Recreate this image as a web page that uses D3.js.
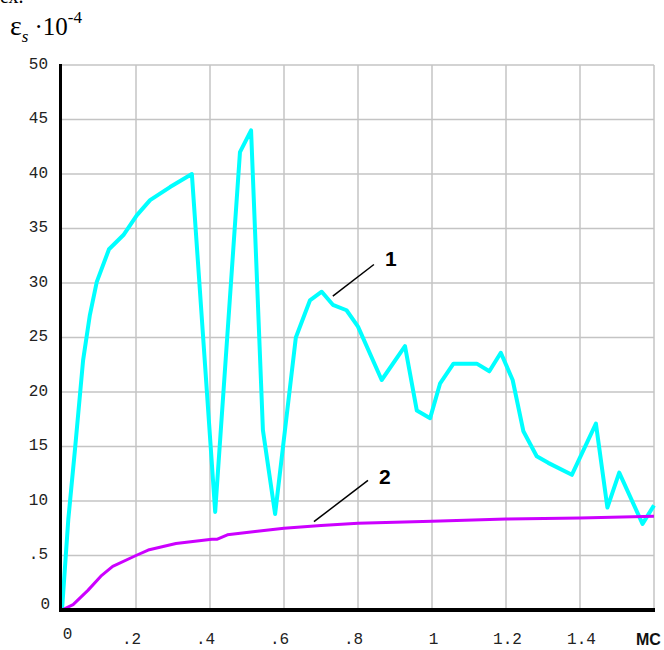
<!DOCTYPE html>
<html>
<head>
<meta charset="utf-8">
<script src="https://cdn.jsdelivr.net/npm/d3@7"></script>
<style>
  html, body { margin: 0; padding: 0; background: #fff; }
  svg { display: block; }
</style>
</head>
<body>
<div id="chart"></div>
<script>
// curve 1 (cyan)
var time1 = [0, 0.017, 0.035, 0.057, 0.075, 0.094, 0.127, 0.166, 0.202, 0.238, 0.292, 0.351,
    0.414, 0.481, 0.511, 0.543, 0.576, 0.632, 0.670, 0.702, 0.732, 0.769, 0.800, 0.864,
    0.927, 0.959, 0.995, 1.022, 1.058, 1.121, 1.155, 1.186, 1.218, 1.247, 1.283, 1.314,
    1.378, 1.443, 1.474, 1.506, 1.569, 1.600];
var strain1 = [0, 8.3, 14.7, 22.9, 27.0, 30.1, 33.1, 34.4, 36.2, 37.6, 38.8, 40.0,
    9.0, 42.0, 44.0, 16.5, 8.8, 25.0, 28.4, 29.2, 28.0, 27.5, 26.0, 21.1,
    24.2, 18.3, 17.6, 20.8, 22.6, 22.6, 21.9, 23.6, 21.1, 16.4, 14.1, 13.5,
    12.4, 17.1, 9.4, 12.6, 7.9, 9.6];

// curve 2 (magenta)
var time2 = [0, 0.03, 0.07, 0.105, 0.137, 0.2, 0.233, 0.308, 0.405, 0.42, 0.447, 0.522, 0.6,
    0.7, 0.8, 1.0, 1.2, 1.4, 1.6];
var strain2 = [0, 0.5, 1.8, 3.1, 4.0, 5.0, 5.5, 6.1, 6.5, 6.5, 6.9, 7.2, 7.5,
    7.75, 7.95, 8.15, 8.35, 8.45, 8.6];

// axis ticks
var xTicks = [0, 0.2, 0.4, 0.6, 0.8, 1.0, 1.2, 1.4];
var xTickLabels = ["0", ".2", ".4", ".6", ".8", "1", "1.2", "1.4"];
var xGrid = [0.2, 0.4, 0.6, 0.8, 1.0, 1.2, 1.4, 1.6];
var yTicks = [0, 5, 10, 15, 20, 25, 30, 35, 40, 45, 50];
var yTickLabels = ["0", ".5", "10", "15", "20", "25", "30", "35", "40", "45", "50"];
var xUnit = "MC";

// curve labels: [label, x0, y0 (leader start), x1, y1 (leader end), xText, yText]
var curveLabels = [
    ["1", 0.732, 28.8, 0.843, 31.7, 0.873, 31.6],
    ["2", 0.681, 8.1, 0.827, 11.9, 0.857, 11.6]
];

var width = 664, height = 650;
var margin = {top: 65, right: 10, bottom: 40, left: 62};

var svg = d3.select("#chart").append("svg")
    .attr("width", width)
    .attr("height", height);

var x = d3.scaleLinear().domain([0, 1.6]).range([margin.left, width - margin.right]);
var y = d3.scaleLinear().domain([0, 50]).range([height - margin.bottom, margin.top]);

// cut-off caption line above the chart
svg.append("text")
    .attr("x", 0)
    .attr("y", 3)
    .style("font-family", "'Liberation Serif', serif")
    .style("font-size", "20px")
    .attr("fill", "#000")
    .text("ех.");

// y axis title
var title = svg.append("text")
    .attr("x", 10)
    .attr("y", 35)
    .style("font-family", "'Liberation Serif', 'Times New Roman', serif")
    .style("font-size", "25px")
    .attr("fill", "#000");
title.append("tspan").style("font-size", "28px").text("ε");
title.append("tspan").attr("dy", 7).style("font-size", "17px").style("font-style", "italic").text("s");
title.append("tspan").attr("dy", -7).attr("dx", 6).text("·10");
title.append("tspan").attr("dy", -12).style("font-size", "17px").text("-4");

// grid
svg.append("g")
    .selectAll("line")
    .data(xGrid)
    .enter().append("line")
    .attr("x1", function(d) { return x(d); })
    .attr("x2", function(d) { return x(d); })
    .attr("y1", y(50))
    .attr("y2", y(0))
    .attr("stroke", "#c4c4c4")
    .attr("stroke-width", 1.5);

svg.append("g")
    .selectAll("line")
    .data(yTicks.slice(1))
    .enter().append("line")
    .attr("x1", x(0))
    .attr("x2", x(1.6))
    .attr("y1", function(d) { return y(d); })
    .attr("y2", function(d) { return y(d); })
    .attr("stroke", "#c4c4c4")
    .attr("stroke-width", 1.5);

// lines
var line = d3.line()
    .x(function(d) { return x(d[0]); })
    .y(function(d) { return y(d[1]); });

svg.append("path")
    .datum(d3.zip(time1, strain1))
    .attr("fill", "none")
    .attr("stroke", "#00ffff")
    .attr("stroke-width", 4)
    .attr("stroke-linejoin", "round")
    .attr("d", line);

svg.append("path")
    .datum(d3.zip(time2, strain2))
    .attr("fill", "none")
    .attr("stroke", "#cc00ff")
    .attr("stroke-width", 3)
    .attr("stroke-linejoin", "round")
    .attr("d", line);

// axes
var yAxis = svg.append("g")
    .attr("transform", "translate(" + margin.left + ",0)")
    .call(d3.axisLeft(y).tickValues(yTicks)
        .tickFormat(function(d, i) { return yTickLabels[i]; })
        .tickSize(0).tickPadding(14));
yAxis.select(".domain").remove();
yAxis.selectAll("text")
    .style("font-family", "'Liberation Mono', monospace")
    .style("font-size", "16px")
    .attr("fill", "#222")
    .attr("dy", function(d) { return d === 0 ? "-0.1em" : "0.2em"; })
    .attr("dx", function(d) { return d === 0 ? 2 : 0; });

var xAxis = svg.append("g")
    .attr("transform", "translate(0," + y(0) + ")")
    .call(d3.axisBottom(x).tickValues(xTicks)
        .tickFormat(function(d, i) { return xTickLabels[i]; })
        .tickSize(0).tickPadding(23));
xAxis.select(".domain").remove();
xAxis.selectAll("text")
    .style("font-family", "'Liberation Mono', monospace")
    .style("font-size", "16px")
    .attr("fill", "#222")
    .attr("dy", function(d) { return d === 0 ? "0.4em" : "0.71em"; })
    .attr("dx", function(d, i) {
        if (d === 0) return 5;
        return xTickLabels[i].charAt(0) === "." ? -5 : 1;
    });

// axis lines
svg.append("line")
    .attr("x1", x(0) - 1.5).attr("x2", x(0) - 1.5)
    .attr("y1", y(50) - 1).attr("y2", y(0) + 2)
    .attr("stroke", "#000")
    .attr("stroke-width", 3);

svg.append("line")
    .attr("x1", x(0) - 3).attr("x2", x(1.6) + 1)
    .attr("y1", y(0)).attr("y2", y(0))
    .attr("stroke", "#000")
    .attr("stroke-width", 4);

svg.append("text")
    .attr("x", x(1.6) - 18)
    .attr("y", y(0) + 35)
    .style("font-family", "'Liberation Sans', Arial, sans-serif")
    .style("font-size", "16px")
    .style("font-weight", "bold")
    .attr("fill", "#111")
    .text(xUnit);

// curve labels with leaders
var labels = svg.append("g")
    .selectAll("g")
    .data(curveLabels)
    .enter().append("g");

labels.append("line")
    .attr("x1", function(d) { return x(d[1]); })
    .attr("y1", function(d) { return y(d[2]); })
    .attr("x2", function(d) { return x(d[3]); })
    .attr("y2", function(d) { return y(d[4]); })
    .attr("stroke", "#000")
    .attr("stroke-width", 1.5);

labels.append("text")
    .attr("x", function(d) { return x(d[5]); })
    .attr("y", function(d) { return y(d[6]); })
    .style("font-family", "'Liberation Sans', Arial, sans-serif")
    .style("font-size", "21px")
    .style("font-weight", "bold")
    .attr("fill", "#000")
    .text(function(d) { return d[0]; });
</script>
</body>
</html>
